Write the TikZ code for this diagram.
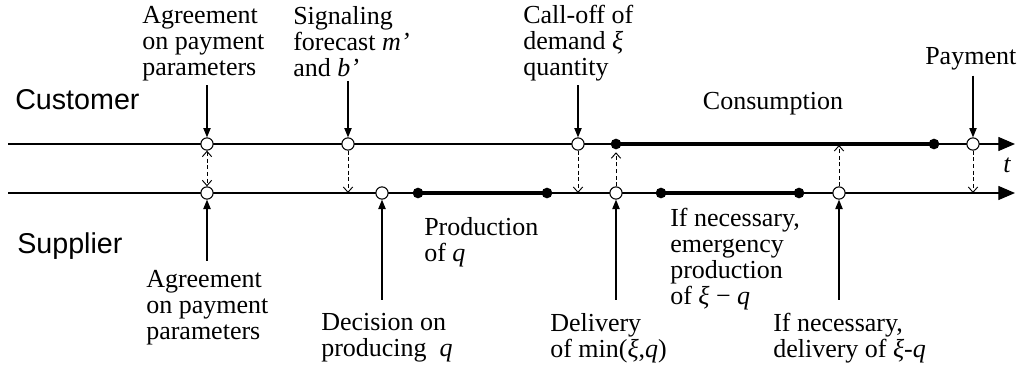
\documentclass[tikz,border=0pt]{standalone}
\usepackage{fontspec}
\setmainfont{Liberation Serif}
\newfontfamily\lanefont{Liberation Sans}
\usetikzlibrary{arrows.meta}
\definecolor{mInk}{HTML}{000000}
\tikzset{
 evt/.style={circle, draw=mInk, fill=white, line width=0.8pt, minimum size=9.2pt, inner sep=0pt},
 dotn/.style={circle, fill=mInk, minimum size=8pt, inner sep=0pt},
 lane/.style={draw=mInk, line width=0.9pt, -{Triangle[length=12.5pt,width=10.5pt]}},
 busy/.style={draw=mInk, line width=3pt},
 sig/.style={draw=mInk, line width=0.8pt, -{Triangle[length=7pt,width=5.5pt]}},
 msg/.style={draw=mInk, line width=0.7pt, dash pattern=on 3pt off 2pt, -{Straight Barb[length=4pt,width=7pt]}},
 lbl/.style={font=\fontsize{19.5}{19.5}\selectfont, align=left, inner sep=0pt, anchor=north west},
 lanelbl/.style={font=\lanefont\fontsize{21.5}{24}\selectfont, inner sep=0pt, anchor=north west},
}
\newcommand{\evt}[3]{\node[evt] (#1) at (#2,#3) {};}
\newcommand{\dotev}[3]{\node[dotn] (#1) at (#2,#3) {};}

\begin{document}
\begin{tikzpicture}[x=0.75pt,y=-0.75pt]
\useasboundingbox (0,0) rectangle (1021,368);
% the two time lines
\coordinate (cStart) at (8,144);
\coordinate (cEnd) at (1015,144);
\coordinate (sStart) at (8,193);
\coordinate (sEnd) at (1015,193);
\draw[lane] (cStart) -- (cEnd);
\draw[lane] (sStart) -- (sEnd);
\node[lanelbl] (cust) at (15,89) {Customer};
\node[lanelbl] (supp) at (17,232) {Supplier};
\node[font=\fontsize{19.5}{19.5}\selectfont\itshape, inner sep=0pt] (tlbl) at (1007,165) {t};

% busy periods
\dotev{dCons1}{616}{144}
\dotev{dCons2}{934}{144}
\dotev{dProd1}{418}{193}
\dotev{dProd2}{547}{193}
\dotev{dEmg1}{661}{193}
\dotev{dEmg2}{799}{193}
\draw[busy] (dCons1.center) -- (dCons2.center);
\draw[busy] (dProd1.center) -- (dProd2.center);
\draw[busy] (dEmg1.center) -- (dEmg2.center);

% events
\evt{cAgr}{207}{144}
\evt{cSig}{348}{144}
\evt{cCall}{578}{144}
\evt{cPay}{973}{144}
\evt{sAgr}{207}{193}
\evt{sDec}{382}{193}
\evt{sDel}{616}{193}
\evt{sEmg}{839}{193}
\coordinate (sigIn) at (348,193);
\coordinate (callIn) at (578,193);
\coordinate (payIn) at (973,193);
\coordinate (emgIn) at (839,145);

% customer side labels
\node[lbl] (agrTop) at (142,6) {Agreement\\on payment\\parameters};
\node[lbl] (sigTxt) at (293,6) {Signaling\\forecast \textit{m’}\\and \textit{b’}};
\node[lbl] (callTxt) at (523,5) {Call-off of\\demand \textit{ξ}\\quantity};
\node[lbl] (payTxt) at (925,47) {Payment};
\node[lbl, anchor=north] (consTxt) at (773,92) {Consumption};

% supplier side labels
\node[lbl] (agrBot) at (146,270) {Agreement\\on payment\\parameters};
\node[lbl] (decTxt) at (321,313) {Decision on\\producing\ \ \textit{q}};
\node[lbl] (prodTxt) at (424,217) {Production\\of \textit{q}};
\node[lbl] (delTxt) at (550,313) {Delivery\\of min(\textit{ξ},\textit{q})};
\node[lbl] (emgTxt) at (670,208) {If necessary,\\emergency\\production\\of \textit{ξ} − \textit{q}};
\node[lbl] (edelTxt) at (773,313) {If necessary,\\delivery of \textit{ξ-q}};

% arrows to the events
\draw[sig, shorten <=3pt] (agrTop.south -| cAgr) -- (cAgr);
\draw[sig, shorten <=3pt] (sigTxt.south -| cSig) -- (cSig);
\draw[sig, shorten <=3pt] (callTxt.south -| cCall) -- (cCall);
\draw[sig, shorten <=4pt] (payTxt.south -| cPay) -- (cPay);
\draw[sig, shorten <=7pt] (agrBot.north -| sAgr) -- (sAgr);
\draw[sig, shorten <=10pt] (decTxt.north -| sDec) -- (sDec);
\draw[sig, shorten <=10pt] (delTxt.north -| sDel) -- (sDel);
\draw[sig, shorten <=10pt] (edelTxt.north -| sEmg) -- (sEmg);

% information flows
\draw[msg, {Straight Barb[length=4pt,width=7pt]}-{Straight Barb[length=4pt,width=7pt]}] (cAgr) -- (sAgr);
\draw[msg] (cSig) -- (sigIn);
\draw[msg] (cCall) -- (callIn);
\draw[msg, shorten >=2pt] (sDel) -- (dCons1);
\draw[msg] (sEmg) -- (emgIn);
\draw[msg] (cPay) -- (payIn);
\end{tikzpicture}
\end{document}
